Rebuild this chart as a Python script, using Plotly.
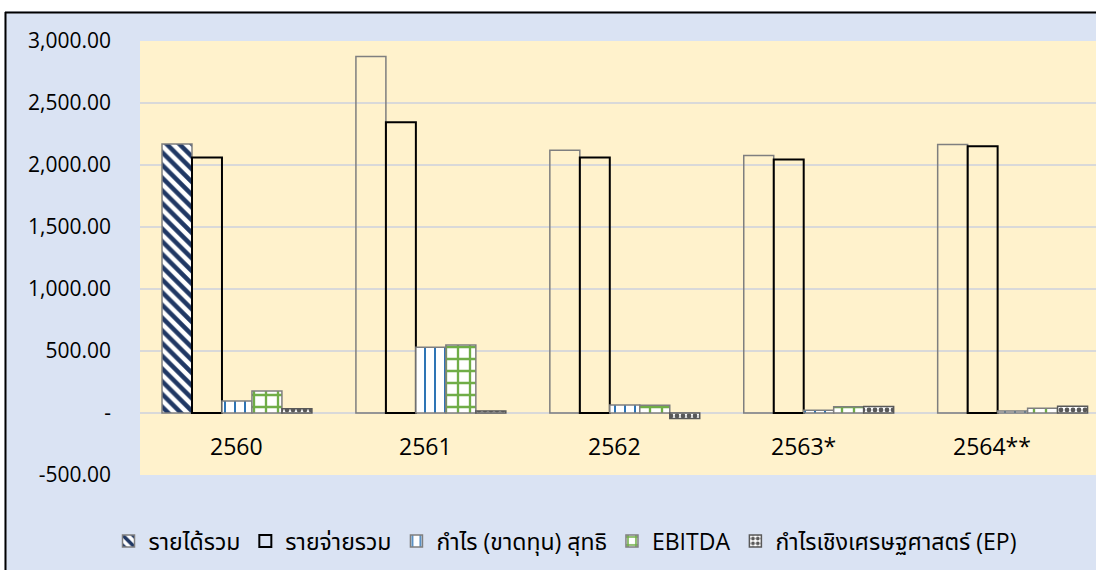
import plotly.graph_objects as go

# ---- data ----
years = ["2560", "2561", "2562", "2563*", "2564**"]
revenue = [2170, 2875, 2118, 2077, 2166]
expenses = [2060, 2345, 2060, 2045, 2152]
net_profit = [97, 530, 64, 22, 16]
ebitda = [177, 548, 62, 50, 38]
ep = [35, 17, -45, 52, 54]

series_names = ["รายได้รวม", "รายจ่ายรวม", "กำไร (ขาดทุน) สุทธิ", "EBITDA",
                "กำไรเชิงเศรษฐศาสตร์ (EP)"]

y_ticks = [-500, 0, 500, 1000, 1500, 2000, 2500, 3000]
y_ticktext = ["-500.00", "-", "500.00", "1,000.00", "1,500.00", "2,000.00",
              "2,500.00", "3,000.00"]

FONT = "Open Sans, Tahoma, 'Noto Sans Thai', 'Leelawadee UI', sans-serif"
GRAY = "#7F7F7F"
CLEAR = "rgba(0,0,0,0)"

fig = go.Figure()

# revenue: only the first year is hatched, the rest are outline only
fig.add_trace(go.Bar(
    x=years, y=[revenue[0], None, None, None, None], name=series_names[0],
    offsetgroup="rev", legendgroup="rev",
    marker=dict(
        color="white", line=dict(color=GRAY, width=1.5),
        pattern=dict(shape="\\", fgcolor="#203864", bgcolor="white", size=9,
                     solidity=0.5, fillmode="replace"),
    ),
))
fig.add_trace(go.Bar(
    x=years, y=[None] + revenue[1:], name=series_names[0],
    offsetgroup="rev", legendgroup="rev", showlegend=False,
    marker=dict(color=CLEAR, line=dict(color=GRAY, width=1.5)),
))
fig.add_trace(go.Bar(
    x=years, y=expenses, name=series_names[1], offsetgroup="exp",
    marker=dict(color=CLEAR, line=dict(color="black", width=2)),
))
fig.add_trace(go.Bar(
    x=years, y=net_profit, name=series_names[2], offsetgroup="np",
    marker=dict(
        color="white", line=dict(color=GRAY, width=1.5),
        pattern=dict(shape="|", fgcolor="#2E75B6", bgcolor="white", size=10,
                     solidity=0.2, fillmode="replace"),
    ),
))
fig.add_trace(go.Bar(
    x=years, y=ebitda, name=series_names[3], offsetgroup="eb",
    marker=dict(
        color="white", line=dict(color=GRAY, width=1.5),
        pattern=dict(shape="+", fgcolor="#70AD47", bgcolor="white", size=12,
                     solidity=0.35, fillmode="replace"),
    ),
))
fig.add_trace(go.Bar(
    x=years, y=ep, name=series_names[4], offsetgroup="ep",
    marker=dict(
        color="white", line=dict(color="#595959", width=1.5),
        pattern=dict(shape=".", fgcolor="#595959", bgcolor="white", size=6,
                     solidity=0.5, fillmode="replace"),
    ),
))

# category labels drawn inside the plot just below the zero line
for i, yr in enumerate(years):
    fig.add_annotation(x=i * 0.974, y=-265, xref="x", yref="y", text=yr, showarrow=False,
                       font=dict(family=FONT, size=23, color="black"))

L, T, B = 140, 41, 95
W = 1096 - L
H = 570 - T - B

def px(xp):
    return (xp - L) / W

def py(yp):
    return (570 - B - yp) / H

shapes = [
    dict(type="rect", xref="paper", yref="paper", x0=px(-5), x1=px(4.5), y0=py(580), y1=py(-5),
         fillcolor="white", line=dict(width=0), layer="below"),
    dict(type="rect", xref="paper", yref="paper", x0=px(-5), x1=px(1100), y0=py(11.5), y1=py(-5),
         fillcolor="white", line=dict(width=0), layer="below"),
    dict(type="line", xref="paper", yref="paper", x0=px(5.5), x1=px(5.5), y0=py(12), y1=py(575),
         line=dict(color="black", width=2)),
    dict(type="line", xref="paper", yref="paper", x0=px(5), x1=px(1100), y0=py(12.5), y1=py(12.5),
         line=dict(color="black", width=2)),
]

fig.update_layout(
    width=1096, height=570,
    margin=dict(l=L, r=0, t=T, b=B, autoexpand=False),
    paper_bgcolor="#DAE3F3",
    plot_bgcolor="#FFF2CC",
    barmode="group",
    bargap=0.227,
    bargroupgap=0,
    font=dict(family=FONT, size=18, color="black"),
    shapes=shapes,
    showlegend=True,
    legend=dict(orientation="h", x=px(565), xanchor="center", y=py(541), yanchor="middle",
                font=dict(family=FONT, size=23), bgcolor=CLEAR,
                traceorder="normal", itemwidth=30),
    xaxis=dict(type="category", range=[-0.5, 4.43], showticklabels=False, showgrid=False,
               zeroline=False, showline=False, fixedrange=True),
    yaxis=dict(range=[-500, 3000], tickvals=y_ticks, ticktext=y_ticktext,
               showgrid=True, gridcolor="#D9D9D9", gridwidth=1.5,
               zeroline=True, zerolinecolor="#D9D9D9", zerolinewidth=1.5,
               showline=False, ticks="", ticklabelstandoff=28,
               tickfont=dict(family=FONT, size=21, color="black")),
)

fig.write_html("out.html", config={"displayModeBar": False},
               post_script="document.body.style.margin='0px';document.body.style.overflow='hidden';")
